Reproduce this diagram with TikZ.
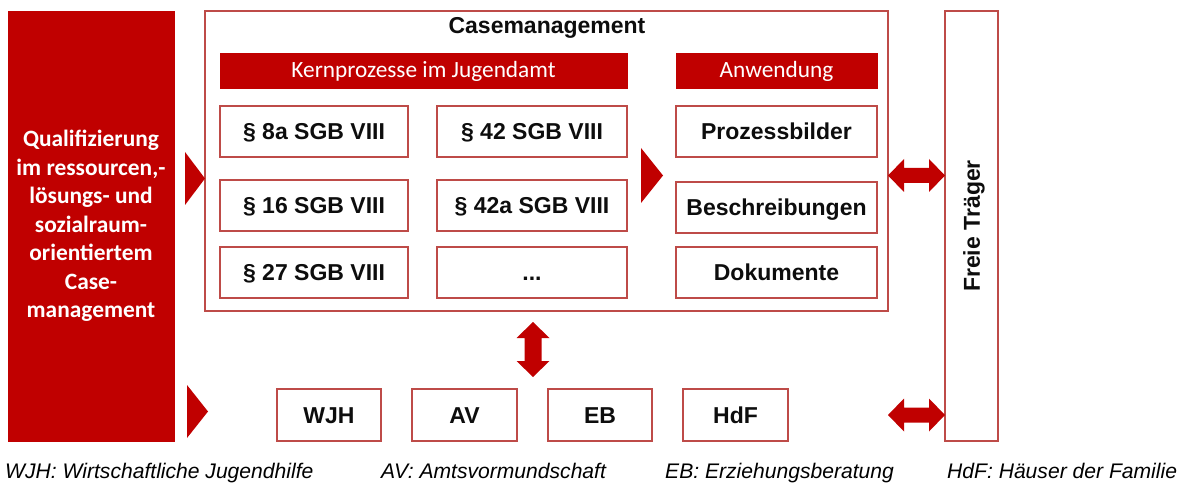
\documentclass[tikz,border=0pt]{standalone}
\usepackage{fontspec}
\setmainfont{Liberation Sans}
\newfontfamily\calib{Carlito}
\usetikzlibrary{calc}
\definecolor{cmred}{RGB}{192,0,0}
\definecolor{cmborder}{RGB}{190,75,72}
\definecolor{cmtext}{RGB}{13,13,13}
\begin{document}
\begin{tikzpicture}[x=1pt,y=-1pt,
  wbox/.style={draw=cmborder, line width=1.4pt, fill=white, inner sep=0pt, outer sep=0pt,
    font=\fontsize{23}{27}\selectfont\bfseries, text=cmtext, text height=16.5pt, text depth=0pt},
  rbar/.style={fill=cmred, draw=cmred, line width=0.8pt, inner sep=0pt, outer sep=0pt,
    font=\calib\fontsize{23.3}{27}\selectfont, text=white, text height=15pt, text depth=0pt},
  capt/.style={anchor=base west, inner sep=0pt, font=\itshape\fontsize{21.1}{25}\selectfont, text=black}
]
\useasboundingbox (0,0) rectangle (1187,484);

% left red block
\node[fill=cmred, draw=cmred, inner sep=0pt, outer sep=0pt, minimum width=166pt, minimum height=430pt,
  align=center, text=white, font=\calib\bfseries\fontsize{23.4}{28.5}\selectfont] (qual) at (91,226)
  {Qualifizierung\\im ressourcen,-\\lösungs- und\\sozialraum-\\orientiertem\\Case-\\management};

% Casemanagement frame
\node[draw=cmborder, line width=1.4pt, inner sep=0pt, outer sep=0pt, minimum width=683pt, minimum height=300pt] (case) at (546.5,161) {};
\node[anchor=base, inner sep=0pt, font=\fontsize{23}{27}\selectfont\bfseries, text=cmtext] (title) at (547,34) {Casemanagement};

% header bars
\node[rbar, minimum width=407pt, minimum height=35pt] (kern) at (423.5,70.5) {Kernprozesse im Jugendamt};
\node[rbar, minimum width=201pt, minimum height=35pt] (anw) at (776.5,70.5) {Anwendung};

% process boxes
\node[wbox, minimum width=188pt, minimum height=51pt] (p8a) at (314,131.5) {§ 8a SGB VIII};
\node[wbox, minimum width=190pt, minimum height=51pt] (p42) at (532,131.5) {§ 42 SGB VIII};
\node[wbox, minimum width=188pt, minimum height=51pt] (p16) at (314,205.5) {§ 16 SGB VIII};
\node[wbox, minimum width=190pt, minimum height=51pt] (p42a) at (532,205.5) {§ 42a SGB VIII};
\node[wbox, minimum width=188pt, minimum height=51pt] (p27) at (314,272.5) {§ 27 SGB VIII};
\node[wbox, minimum width=190pt, minimum height=51pt] (pdots) at (532,272.5) {...};

% application boxes
\node[wbox, minimum width=201pt, minimum height=51pt] (proz) at (776.5,131.5) {Prozessbilder};
\node[wbox, minimum width=201pt, minimum height=51pt] (besch) at (776.5,207.5) {Beschreibungen};
\node[wbox, minimum width=201pt, minimum height=51pt] (doku) at (776.5,272.5) {Dokumente};

% Freie Traeger
\node[draw=cmborder, line width=1.4pt, inner sep=0pt, outer sep=0pt, minimum width=53pt, minimum height=430pt] (freie) at (971.5,226) {};
\node[rotate=90, inner sep=0pt, font=\fontsize{23}{27}\selectfont\bfseries, text=cmtext, text height=16.5pt, text depth=0pt] (freietxt) at (freie.center) {Freie Träger};

% bottom boxes
\node[wbox, minimum width=104pt, minimum height=52pt] (wjh) at (329,415) {WJH};
\node[wbox, minimum width=105pt, minimum height=52pt] (av) at (464.5,415) {AV};
\node[wbox, minimum width=104pt, minimum height=52pt] (eb) at (600,415) {EB};
\node[wbox, minimum width=105pt, minimum height=52pt] (hdf) at (735.5,415) {HdF};

% captions
\node[capt] (cwjh) at (5,478) {WJH: Wirtschaftliche Jugendhilfe};
\node[capt] (cav) at (381,478) {AV: Amtsvormundschaft};
\node[capt] (ceb) at (665,478) {EB: Erziehungsberatung};
\node[capt] (chdf) at (947,478) {HdF: Häuser der Familie};

% chevron triangles
\coordinate (t1) at (case.west |- 0,178.5);
\fill[cmred] (t1) -- ($(t1)+(-20,-26.5)$) -- ($(t1)+(-20,26.5)$) -- cycle;
\coordinate (t2) at (663,175.5);
\fill[cmred] (t2) -- ($(t2)+(-22,-27.5)$) -- ($(t2)+(-22,27.5)$) -- cycle;
\coordinate (t3) at (208,411.5);
\fill[cmred] (t3) -- ($(t3)+(-21,-26.5)$) -- ($(t3)+(-21,26.5)$) -- cycle;

% horizontal double arrows
\foreach \yy/\nm in {175.5/ha, 415/hb}{
  \coordinate (\nm a) at (case.east |- 0,\yy);
  \coordinate (\nm b) at (freie.west |- 0,\yy);
  \fill[cmred] (\nm a) -- ($(\nm a)+(16,-16.5)$) -- ($(\nm a)+(16,-7.5)$) -- ($(\nm b)+(-16,-7.5)$)
    -- ($(\nm b)+(-16,-16.5)$) -- (\nm b) -- ($(\nm b)+(-16,16.5)$) -- ($(\nm b)+(-16,7.5)$)
    -- ($(\nm a)+(16,7.5)$) -- ($(\nm a)+(16,16.5)$) -- cycle;
}

% vertical double arrow
\coordinate (va) at ($(case.south -| 533,0)+(0,11)$);
\coordinate (vb) at ($(av.north -| 533,0)+(0,-12)$);
\fill[cmred] (va) -- ($(va)+(16.5,16)$) -- ($(va)+(8.5,16)$) -- ($(vb)+(8.5,-16)$)
  -- ($(vb)+(16.5,-16)$) -- (vb) -- ($(vb)+(-16.5,-16)$) -- ($(vb)+(-8.5,-16)$)
  -- ($(va)+(-8.5,16)$) -- ($(va)+(-16.5,16)$) -- cycle;
\end{tikzpicture}
\end{document}
